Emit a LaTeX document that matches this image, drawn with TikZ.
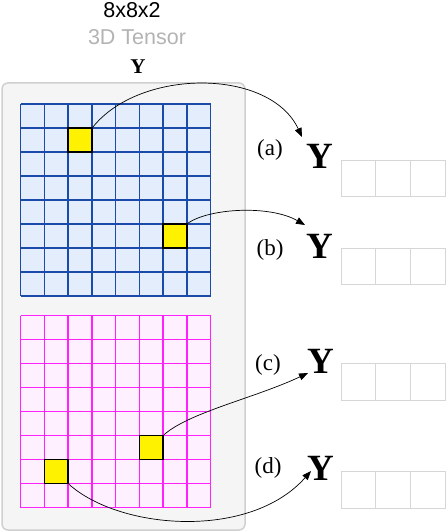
\documentclass[tikz,border=0pt]{standalone}
\usepackage{fontspec}
\setmainfont{Liberation Serif}
\newfontfamily\arialf{Liberation Sans}
\usetikzlibrary{arrows.meta}
\definecolor{boxgray}{HTML}{F5F5F5}
\definecolor{boxline}{HTML}{D0D0D0}
\definecolor{bluefill}{HTML}{E3EDFC}
\definecolor{blueline}{HTML}{1A4BAA}
\definecolor{pinkfill}{HTML}{FFF0FF}
\definecolor{pinkline}{HTML}{FF22FF}
\definecolor{tgray}{HTML}{B3B3B3}
\definecolor{cellline}{HTML}{D6D6D6}
\begin{document}
\begin{tikzpicture}[x=1pt,y=-1pt,
 ycell/.style={draw=black,line width=1.6pt,fill=yellow,minimum width=23.75pt,minimum height=24pt,inner sep=0pt},
 conn/.style={line width=0.7pt,-{Triangle[length=9pt,width=7pt]}},
 bigY/.style={font=\fontsize{37}{40}\selectfont\bfseries,inner sep=0pt,anchor=base},
 lab/.style={font=\fontsize{23}{26}\selectfont,inner sep=0pt},
 toptxt/.style={font=\arialf\fontsize{21.5}{25}\selectfont,inner sep=0pt},
 outcell/.style={draw=cellline,line width=0.9pt,minimum width=34.7pt,minimum height=36.5pt,inner sep=0pt}
]
\useasboundingbox (0,0) rectangle (446,532);
% titles
\node[toptxt] (t1) at (132,10) {8x8x2};
\node[toptxt,text=tgray] (t2) at (137,37) {3D Tensor};
\node[font=\fontsize{21}{25}\selectfont\bfseries,inner sep=0pt] (t3) at (138,67) {Y};
% container
\draw[boxline,fill=boxgray,line width=1.5pt,rounded corners=6pt] (2,83) rectangle (245,530);
% blue grid
\fill[bluefill] (20.7,104) rectangle (210.7,296);
\foreach \i in {0,...,8} {
  \draw[blueline,line width=1.5pt] (20.7+23.75*\i,104) -- (20.7+23.75*\i,296);
  \draw[blueline,line width=1.5pt] (20.7,104+24*\i) -- (210.7,104+24*\i);
}
% pink grid
\fill[pinkfill] (20.7,315.5) rectangle (210.7,507.5);
\foreach \i in {0,...,8} {
  \draw[pinkline,line width=1.5pt] (20.7+23.75*\i,315.5) -- (20.7+23.75*\i,507.5);
  \draw[pinkline,line width=1.5pt] (20.7,315.5+24*\i) -- (210.7,315.5+24*\i);
}
% selected cells
\node[ycell] (ya) at (80.1,140) {};
\node[ycell] (yb) at (175.1,236) {};
\node[ycell] (yc) at (151.3,447.5) {};
\node[ycell] (yd) at (56.3,471.5) {};
% labels and Y outputs
\node[lab] (la) at (270,150) {(a)};
\node[lab] (lb) at (270,250) {(b)};
\node[lab] (lc) at (268,365) {(c)};
\node[lab] (ld) at (268,468) {(d)};
\node[bigY] (Ya) at (320,168) {Y};
\node[bigY] (Yb) at (320,258) {Y};
\node[bigY] (Yc) at (321,373) {Y};
\node[bigY] (Yd) at (321,480) {Y};
% output cells
\foreach \r/\y in {a/178.3,b/266.2,c/382,d/490} {
  \node[outcell] (o\r1) at (358.35,\y) {};
  \node[outcell] (o\r2) at (393.05,\y) {};
  \node[outcell] (o\r3) at (427.75,\y) {};
}
% arrow tips
\coordinate (ta) at (302,137);
\coordinate (tb) at (305,225);
\coordinate (tc) at (308,373);
\coordinate (td) at (311,471);
% connectors
\draw[conn] (ya.north east) .. controls (140,68) and (270,68) .. (ta);
\draw[conn] (yb.north east) .. controls (210,208) and (270,205) .. (tb);
\draw[conn] (yc.north east) .. controls (190,412) and (255,398) .. (tc);
\draw[conn] (yd.south east) .. controls (120,530) and (250,540) .. (td);
\end{tikzpicture}
\end{document}
